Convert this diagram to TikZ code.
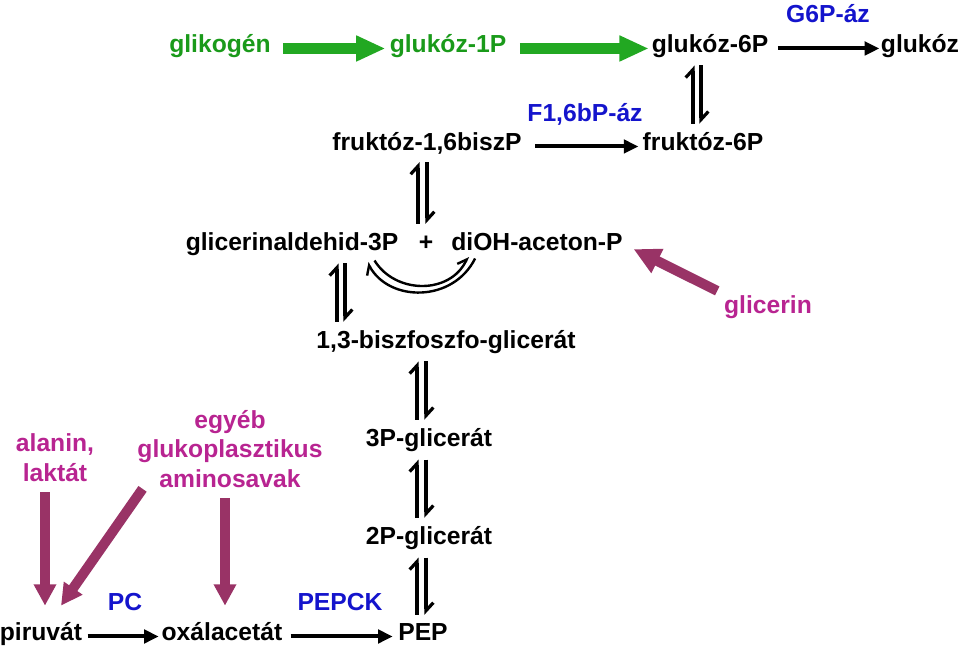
\documentclass[tikz,border=0pt]{standalone}
\usepackage{fontspec}
\setmainfont{Liberation Sans}
\usepackage{tikz}
\usetikzlibrary{arrows.meta,calc}
\definecolor{GlyGreen}{HTML}{1A9A1A}
\definecolor{ArrGreen}{HTML}{22A822}
\definecolor{EnzBlue}{HTML}{1414CC}
\definecolor{SubMagenta}{HTML}{B82491}
\definecolor{ArrPurple}{HTML}{993366}

\begin{document}
\begin{tikzpicture}[x=0.75pt, y=-0.75pt, lbl/.style={font=\fontsize{18.5}{21.8}\selectfont\bfseries, inner sep=0pt, anchor=base}, rxn/.style={-{Triangle[length=11pt,width=10pt]}, line width=3pt}, grn/.style={-{Triangle[length=22pt,width=18pt]}, line width=8.5pt, color=ArrGreen}, prp/.style={-{Triangle[length=16pt,width=16pt]}, line width=7.5pt, color=ArrPurple}, harp/.style={-{Straight Barb[left,length=6pt,width=11pt]}, line width=2.4pt, shorten <=6pt, shorten >=6pt}, harpc/.style={-{Straight Barb[left,length=6pt,width=10pt]}, line width=1.8pt}]
\useasboundingbox (0,0) rectangle (959,646);
% upper part
\node[lbl, text=GlyGreen] (glyc) at (220,52) {glikogén};
\node[lbl, text=GlyGreen] (g1p) at (448,52) {glukóz-1P};
\node[lbl] (g6p) at (710,52) {glukóz-6P};
\node[lbl] (glc) at (920,52) {glukóz};
\node[lbl, text=EnzBlue] (g6pase) at (828,22) {G6P-áz};
\node[lbl, text=EnzBlue] (fbpase) at (585,121) {F1,6bP-áz};
\node[lbl] (f16bp) at (427,150) {fruktóz-1,6biszP};
\node[lbl] (f6p) at (703,150) {fruktóz-6P};
\node[lbl] (gap) at (292,250) {glicerinaldehid-3P};
\node[lbl] (plus) at (426,250) {+};
\node[lbl] (dhap) at (537,250) {diOH-aceton-P};
\node[lbl, text=SubMagenta] (glic) at (768,313) {glicerin};
\node[lbl] (bpg) at (446,348) {1,3-biszfoszfo-glicerát};
% lower part
\node[lbl] (pg3) at (429,446) {3P-glicerát};
\node[lbl] (pg2) at (429,544) {2P-glicerát};
\node[lbl] (pep) at (423,640) {PEP};
\node[lbl] (pir) at (41,640) {piruvát};
\node[lbl] (oxa) at (222,640) {oxálacetát};
\node[lbl, text=EnzBlue] (pc) at (125,610) {PC};
\node[lbl, text=EnzBlue] (pepck) at (340,610) {PEPCK};
\node[lbl, text=SubMagenta, align=center] (ala) at (55,481) {alanin,\\laktát};
\node[lbl, text=SubMagenta, align=center] (aa) at (230,487) {egyéb\\glukoplasztikus\\aminosavak};
% one-way steps
\draw[grn, shorten <=9pt, shorten >=3pt] (glyc.mid east) -- (g1p.mid west);
\draw[grn, shorten <=10pt, shorten >=2pt] (g1p.mid east) -- (g6p.mid west);
\draw[rxn, shorten <=7pt, shorten >=1pt] (g6p.mid east) -- (glc.mid west);
\draw[rxn, shorten <=10pt, shorten >=3pt] (f16bp.mid east) -- (f6p.mid west);
\draw[rxn, shorten <=4pt, shorten >=2pt] (pir.mid east) -- (oxa.mid west);
\draw[rxn, shorten <=6pt, shorten >=4pt] (oxa.mid east) -- (pep.mid west);
% equilibria
\draw[harp] (f6p.north -| 693,0) -- (g6p.south -| 693,0); \draw[harp] (g6p.south -| 701,0) -- (f6p.north -| 701,0);
\draw[harp] (gap.north -| 418,0) -- (f16bp.south -| 418,0); \draw[harp] (f16bp.south -| 427,0) -- (gap.north -| 427,0);
\draw[harp] (bpg.north -| 337,0) -- (gap.south -| 337,0); \draw[harp] (gap.south -| 345,0) -- (bpg.north -| 345,0);
\draw[harp] (pg3.north -| 417,0) -- (bpg.south -| 417,0); \draw[harp] (bpg.south -| 426,0) -- (pg3.north -| 426,0);
\draw[harp] (pg2.north -| 417,0) -- (pg3.south -| 417,0); \draw[harp] (pg3.south -| 426,0) -- (pg2.north -| 426,0);
\draw[harp] (pep.north -| 417,0) -- (pg2.south -| 417,0); \draw[harp] (pg2.south -| 426,0) -- (pep.north -| 426,0);
% triose phosphate isomerase
\draw[harpc] ($(dhap.south west)+(24,8)$) .. controls +(-22,44) and +(22,40) .. ($(gap.south east)+(-31,7)$);
\draw[harpc] ($(gap.south east)+(-24,5)$) .. controls +(21,34) and +(-18,38) .. ($(dhap.south west)+(17,6)$);
% feeding substrates
\draw[prp, -{Triangle[length=20pt,width=19pt]}] ([xshift=-5pt,yshift=3pt]glic.north west) -- ([xshift=8pt,yshift=-2pt]dhap.mid east);
\draw[prp, shorten <=8pt, shorten >=12pt] (ala.south -| 45,0) -- (pir.north -| 45,0);
\draw[prp] ([xshift=4pt,yshift=-1pt]aa.south west) -- ([xshift=15pt,yshift=12pt]pir.north);
\draw[prp, shorten <=8pt, shorten >=12pt] (aa.south -| 225,0) -- (oxa.north -| 225,0);
\end{tikzpicture}
\end{document}
